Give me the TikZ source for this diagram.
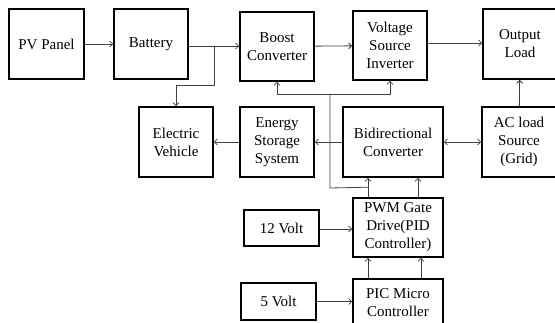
\documentclass[tikz,border=0pt]{standalone}
\usepackage{fontspec}
\setmainfont{Liberation Serif}
\usetikzlibrary{arrows.meta,calc}
\tikzset{pin/.style={draw=black!75, line width=0.8pt, -{Straight Barb[length=3pt,width=6pt]}},
  wire/.style={draw=black!75, line width=0.8pt},
  blk/.style={draw, line width=1.6pt, align=center, inner sep=0pt, font=\fontsize{15}{18}\selectfont}}

\begin{document}
\begin{tikzpicture}[x=1pt, y=-1pt]
  \useasboundingbox (0,0) rectangle (555,323);
  \clip (0,0) rectangle (555,323);
  % top row
  \node[blk, minimum width=75pt, minimum height=70pt] (pv) at (46.5,44) {PV Panel};
  \node[blk, minimum width=74pt, minimum height=70pt] (bat) at (151,44) {Battery};
  \node[blk, minimum width=74pt, minimum height=69pt] (bst) at (277,46.5) {Boost\\Converter};
  \node[blk, minimum width=74pt, minimum height=69pt] (vsi) at (390,45.5) {Voltage\\Source\\Inverter};
  \node[blk, minimum width=74pt, minimum height=70pt] (out) at (520,44) {Output\\Load};
  % middle row
  \node[blk, minimum width=74pt, minimum height=70pt] (ev) at (176,142) {Electric\\Vehicle};
  \node[blk, minimum width=74pt, minimum height=70pt] (ess) at (277,142) {Energy\\Storage\\System};
  \node[blk, minimum width=100pt, minimum height=70pt] (bdc) at (393,142) {Bidirectional\\Converter};
  \node[blk, minimum width=74pt, minimum height=70pt] (ac) at (519,142) {AC load\\Source\\(Grid)};
  % control
  \node[blk, minimum width=75pt, minimum height=36pt] (v12) at (281.5,228) {12 Volt};
  \node[blk, minimum width=90pt, minimum height=59pt] (pwm) at (398,227.5) {PWM Gate\\Drive(PID\\Controller)};
  \node[blk, minimum width=75pt, minimum height=37pt] (v5) at (278.5,301.5) {5 Volt};
  \node[blk, minimum width=90pt, minimum height=47pt] (pic) at (398,302.5) {PIC Micro\\Controller};

  \draw[pin] (pv) -- (bat);
  \draw[pin] ($(bat.east)+(0,2)$) -- ($(bst.west)+(0,-0.5)$);
  \coordinate (jbat) at (214,46);
  \draw[pin] (jbat) -- ++(0,39) -| (ev.north);
  \draw[pin] (bst) -- (vsi);
  \draw[pin] ($(vsi.east)+(0,-2.5)$) -- ($(out.west)+(0,-1)$);
  \draw[pin] (ess) -- (ev);
  \draw[pin] (bdc) -- (ess);
  \draw[pin, {Straight Barb[length=3pt,width=6pt]}-{Straight Barb[length=3pt,width=6pt]}] (bdc) -- (ac);
  \draw[pin] (ac) -- (out);
  % gate signals
  \draw[pin] ($(pwm.north)+(-30,0)$) coordinate (t1) -- (t1 |- bdc.south);
  \draw[pin] ($(pwm.north)+(20,0)$) coordinate (t2) -- (t2 |- bdc.south);
  \coordinate (jb) at (330,188);
  \coordinate (jt) at (330,94);
  \draw[wire] ($(t1)+(0,-10)$) -- (jb) -- (jt);
  \draw[pin] (jt) -| (bst.south);
  \draw[pin] (jt) -| (vsi.south);
  \draw[pin] ($(v12.east)+(0,1)$) -- ($(pwm.west)+(0,1.5)$);
  \draw[pin] (v5) -- (v5 -| pic.west);
  \draw[pin] ($(pic.north)+(-30,0)$) coordinate (p1) -- (p1 |- pwm.south);
  \draw[pin] ($(pic.north)+(23,0)$) coordinate (p2) -- (p2 |- pwm.south);
\end{tikzpicture}
\end{document}
